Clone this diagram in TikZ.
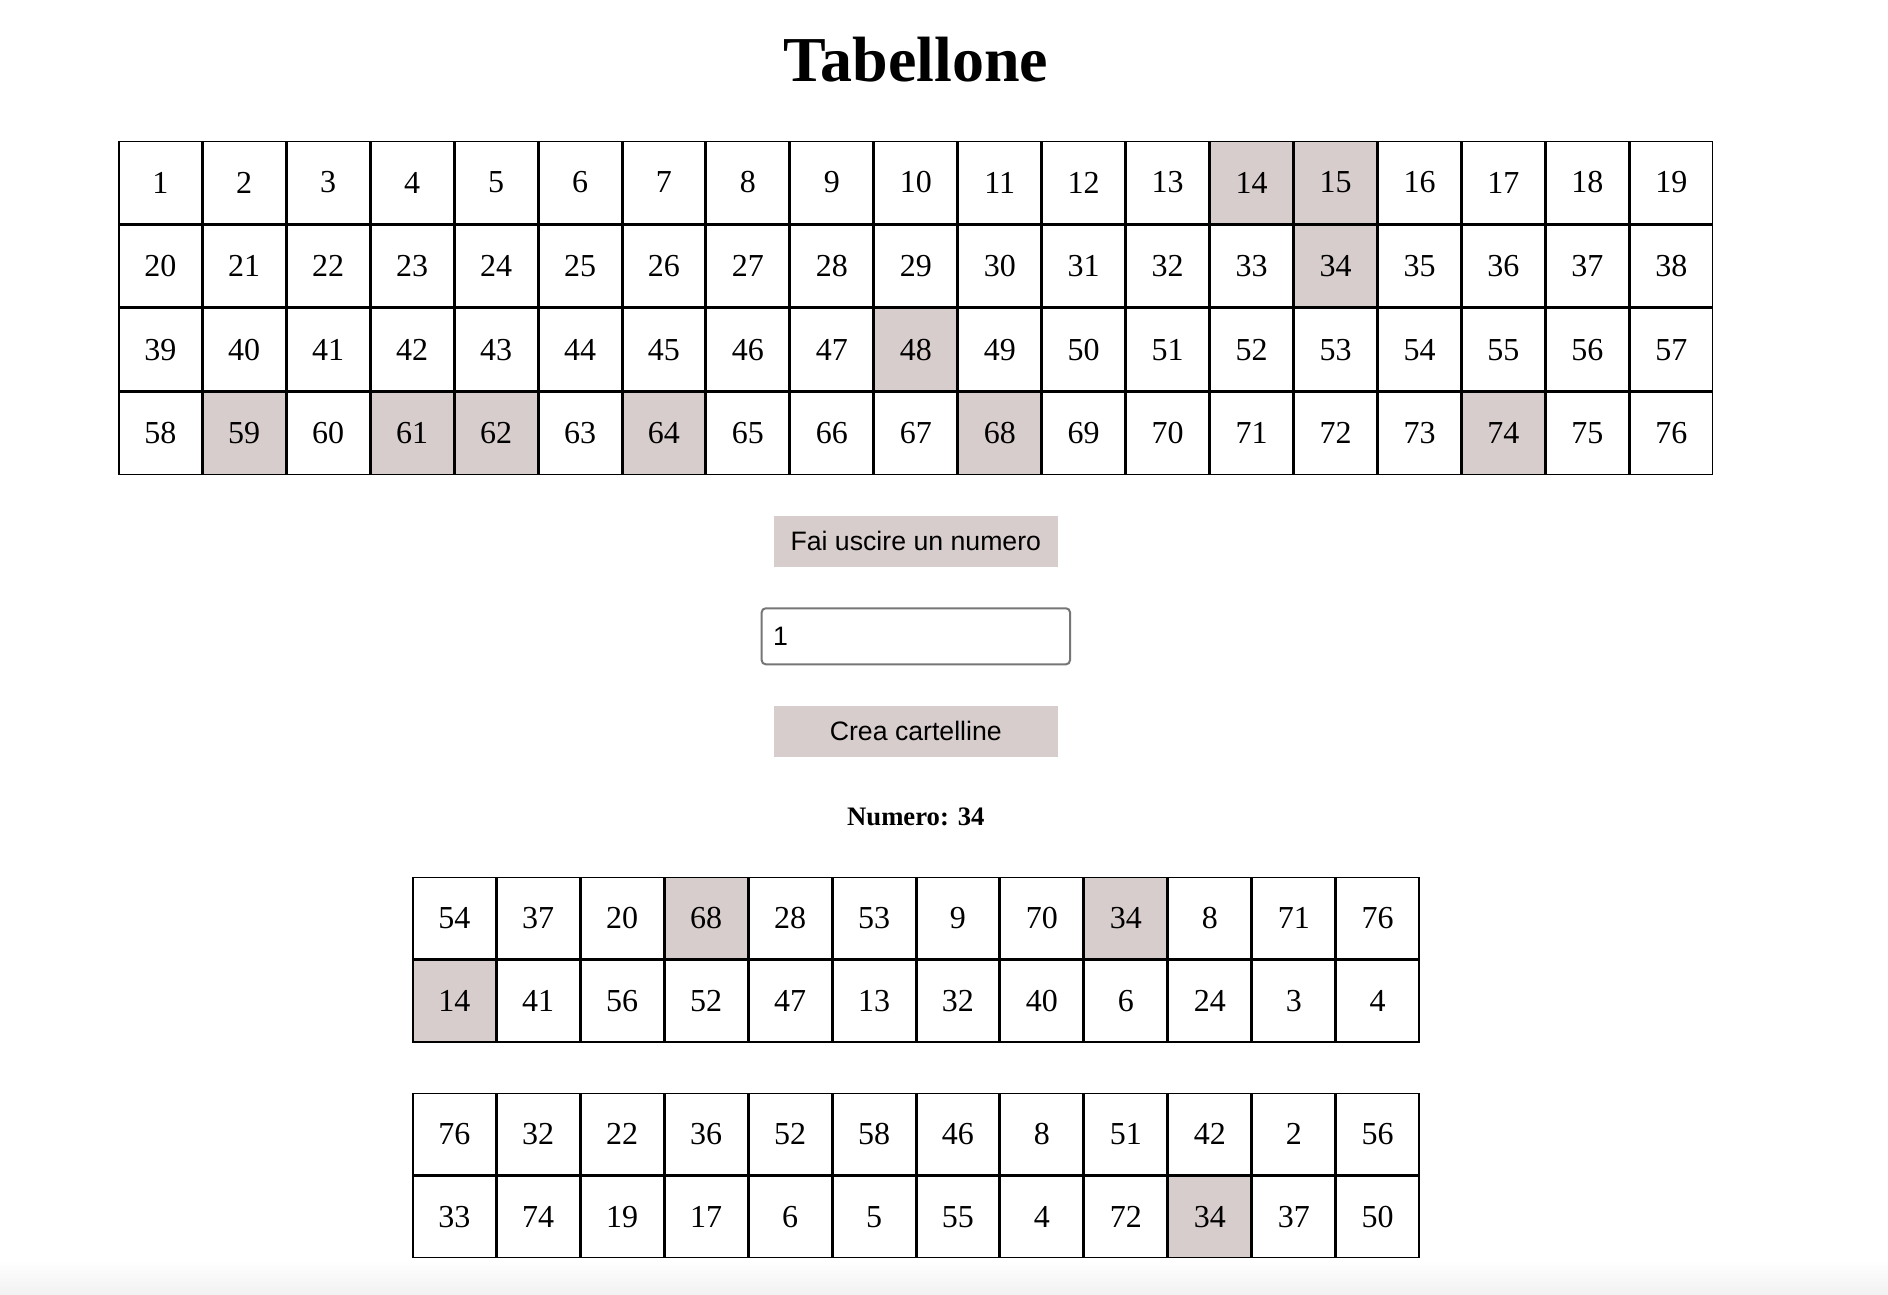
\documentclass[tikz,border=0pt]{standalone}
\usepackage{fontspec}
\setmainfont{Liberation Serif}
\newfontfamily\arialfont{Liberation Sans}
\definecolor{hl}{RGB}{216,205,205}
\definecolor{inputgray}{RGB}{118,118,118}
\tikzset{
  tcell/.style={draw=black, line width=1.5pt, minimum width=82.45pt, minimum height=82.1pt,
    inner sep=0pt, font=\fontsize{32}{38}\selectfont},
  ccell/.style={tcell, minimum height=81.5pt},
  btn/.style={fill=hl, minimum width=283.7pt, minimum height=50.7pt, inner sep=0pt,
    font=\arialfont\fontsize{26.67}{32}\selectfont},
  inputbox/.style={draw=inputgray, line width=2pt, rounded corners=4pt,
    minimum width=308.3pt, minimum height=56pt, inner sep=0pt},
}
\begin{document}
\begin{tikzpicture}[x=1pt,y=-1pt]
\useasboundingbox (0,0) rectangle (1888,1294);
\fill[white] (0,0) rectangle (1888,1294);
\shade[top color=white,bottom color=black!5] (0,1260) rectangle (1888,1294);

% title
\node[font=\bfseries\fontsize{64}{76}\selectfont, anchor=base, inner sep=0pt] (title) at (915.8,81.7) {Tabellone};

% main board
\foreach \n in {1,...,76}{
  \pgfmathtruncatemacro\r{(\n-1)/19}
  \pgfmathtruncatemacro\c{mod(\n-1,19)}
  \gdef\cellfill{white}
  \foreach \h in {14,15,34,48,59,61,62,64,68,74}{\ifnum\n=\h\relax\gdef\cellfill{hl}\fi}
  \node[tcell, fill=\cellfill] (t\n) at ({118.3+(\c+0.5)*83.95},{140.7+(\r+0.5)*83.6}) {\n};
}

% buttons and input
\node[btn] (b1) at (915.8,541.3) {Fai uscire un numero};
\node[inputbox] (inp) at (915.85,636.3) {};
\node[anchor=base west, inner sep=0pt, font=\arialfont\fontsize{26.67}{32}\selectfont] (inpt) at (772.8,645) {1};
\node[btn] (b2) at (915.8,731.3) {Crea cartelline};

% drawn number
\node[font=\bfseries\fontsize{26.67}{32}\selectfont, anchor=base, inner sep=0pt] (num) at (915.8,825) {Numero: 34};

% card 1
\foreach \v/\f [count=\i from 0] in {54/white,37/white,20/white,68/hl,28/white,53/white,9/white,70/white,34/hl,8/white,71/white,76/white,
  14/hl,41/white,56/white,52/white,47/white,13/white,32/white,40/white,6/white,24/white,3/white,4/white}{
  \pgfmathtruncatemacro\r{\i/12}
  \pgfmathtruncatemacro\c{mod(\i,12)}
  \node[ccell, fill=\f] (a-\r-\c) at ({412.3+(\c+0.5)*83.95},{876.7+(\r+0.5)*83}) {\v};
}

% card 2
\foreach \v/\f [count=\i from 0] in {76/white,32/white,22/white,36/white,52/white,58/white,46/white,8/white,51/white,42/white,2/white,56/white,
  33/white,74/white,19/white,17/white,6/white,5/white,55/white,4/white,72/white,34/hl,37/white,50/white}{
  \pgfmathtruncatemacro\r{\i/12}
  \pgfmathtruncatemacro\c{mod(\i,12)}
  \node[ccell, fill=\f] (b-\r-\c) at ({412.3+(\c+0.5)*83.95},{1092.7+(\r+0.5)*82.7}) {\v};
}
\end{tikzpicture}
\end{document}
